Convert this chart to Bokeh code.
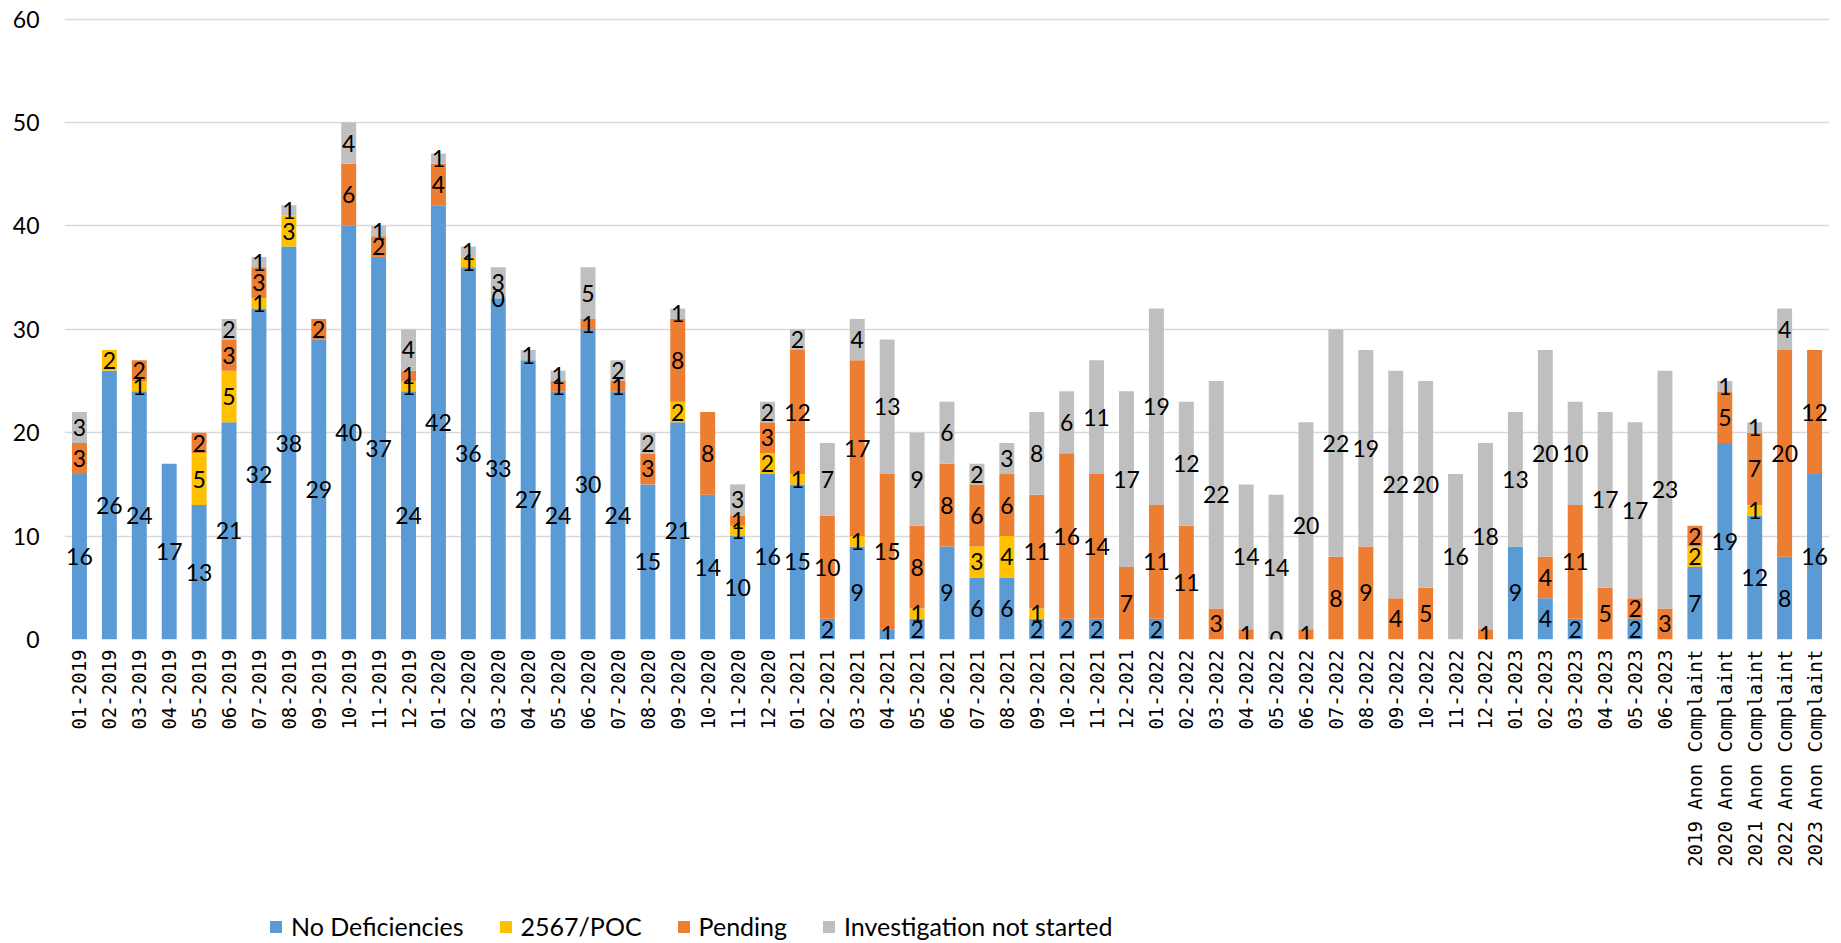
from bokeh.plotting import figure
from bokeh.models import ColumnDataSource, FactorRange, Range1d, FixedTicker, Legend, LegendItem
from bokeh.layouts import column
from bokeh.core.properties import value
from bokeh.embed import file_html
from bokeh.resources import INLINE
import math

categories = [
    "01-2019", "02-2019", "03-2019", "04-2019", "05-2019", "06-2019",
    "07-2019", "08-2019", "09-2019", "10-2019", "11-2019", "12-2019",
    "01-2020", "02-2020", "03-2020", "04-2020", "05-2020", "06-2020",
    "07-2020", "08-2020", "09-2020", "10-2020", "11-2020", "12-2020",
    "01-2021", "02-2021", "03-2021", "04-2021", "05-2021", "06-2021",
    "07-2021", "08-2021", "09-2021", "10-2021", "11-2021", "12-2021",
    "01-2022", "02-2022", "03-2022", "04-2022", "05-2022", "06-2022",
    "07-2022", "08-2022", "09-2022", "10-2022", "11-2022", "12-2022",
    "01-2023", "02-2023", "03-2023", "04-2023", "05-2023", "06-2023",
    "2019 Anon Complaint", "2020 Anon Complaint", "2021 Anon Complaint",
    "2022 Anon Complaint", "2023 Anon Complaint",
]

N = None
no_deficiencies = [16, 26, 24, 17, 13, 21, 32, 38, 29, 40, 37, 24,
                   42, 36, 33, 27, 24, 30, 24, 15, 21, 14, 10, 16,
                   15, 2, 9, 1, 2, 9, 6, 6, 2, 2, 2, N,
                   2, N, N, N, N, N, N, N, N, N, N, N,
                   9, 4, 2, N, 2, N,
                   7, 19, 12, 8, 16]
poc_2567 = [N, 2, 1, N, 5, 5, 1, 3, N, N, N, 1,
            N, 1, 0, N, N, N, N, N, 2, N, 1, 2,
            1, N, 1, N, 1, N, 3, 4, 1, N, N, N,
            N, N, N, N, N, N, N, N, N, N, N, N,
            N, N, N, N, N, N,
            2, N, 1, N, N]
pending = [3, N, 2, N, 2, 3, 3, N, 2, 6, 2, 1,
           4, N, N, N, 1, 1, 1, 3, 8, 8, 1, 3,
           12, 10, 17, 15, 8, 8, 6, 6, 11, 16, 14, 7,
           11, 11, 3, 1, 0, 1, 8, 9, 4, 5, N, 1,
           N, 4, 11, 5, 2, 3,
           2, 5, 7, 20, 12]
not_started = [3, N, N, N, N, 2, 1, 1, N, 4, 1, 4,
               1, 1, 3, 1, 1, 5, 2, 2, 1, N, 3, 2,
               2, 7, 4, 13, 9, 6, 2, 3, 8, 6, 11, 17,
               19, 12, 22, 14, 14, 20, 22, 19, 22, 20, 16, 18,
               13, 20, 10, 17, 17, 23,
               N, 1, 1, 4, N]

series_names = ["No Deficiencies", "2567/POC", "Pending", "Investigation not started"]
series_data = [no_deficiencies, poc_2567, pending, not_started]
colors = ["#5B9BD5", "#FFC000", "#ED7D31", "#BFBFBF"]
y_ticks = [0, 10, 20, 30, 40, 50, 60]

keys = ["s0", "s1", "s2", "s3"]
data = {"cat": categories}
for k, s in zip(keys, series_data):
    data[k] = [0 if v is None else v for v in s]
src = ColumnDataSource(data)

p = figure(x_range=FactorRange(*categories, range_padding=0),
           y_range=Range1d(0, 60.15),
           width=1841, height=880,
           output_backend="svg", toolbar_location=None,
           min_border_left=64, min_border_right=12,
           min_border_top=17, min_border_bottom=241)
p.frame_align = False
p.outline_line_color = None
p.background_fill_color = "white"

renderers = p.vbar_stack(keys, x="cat", width=0.5, source=src,
                         color=colors, line_color=None)

# data labels, centered in each segment
lx, ly, lt = [], [], []
bottoms = [0] * len(categories)
for s in series_data:
    for i, v in enumerate(s):
        if v is not None:
            lx.append(categories[i])
            ly.append(bottoms[i] + v / 2)
            lt.append(str(v))
        bottoms[i] += 0 if v is None else v
lsrc = ColumnDataSource(dict(x=lx, y=ly, t=lt))
p.text(x="x", y="y", text="t", source=lsrc,
       text_font=value("Lato"), text_font_size="23px",
       text_align="center", text_baseline="middle", text_color="#000000")

# axes
p.yaxis.ticker = FixedTicker(ticks=y_ticks)
p.yaxis.axis_line_color = None
p.yaxis.major_tick_line_color = None
p.yaxis.minor_tick_line_color = None
p.yaxis.major_tick_out = 0
p.yaxis.major_label_standoff = 25
p.yaxis.major_label_text_font = "Lato"
p.yaxis.major_label_text_font_size = "23px"
p.yaxis.major_label_text_color = "#000000"

p.xaxis.axis_line_color = None
p.xaxis.major_tick_line_color = None
p.xaxis.minor_tick_line_color = None
p.xaxis.major_tick_out = 0
p.xaxis.major_label_orientation = math.pi / 2
p.xaxis.major_label_standoff = 10
p.xaxis.major_label_text_font = "DejaVu Sans Mono"
p.xaxis.major_label_text_font_size = "19px"
p.xaxis.major_label_text_color = "#000000"

p.xgrid.grid_line_color = None
p.ygrid.grid_line_color = "#D9D9D9"
p.ygrid.grid_line_width = 1.5

# legend strip below the chart
lg = figure(width=1841, height=63, x_range=Range1d(0, 1), y_range=Range1d(0, 1),
            x_axis_type=None, y_axis_type=None,
            output_backend="svg", toolbar_location=None,
            min_border=0, min_border_left=0, min_border_right=0,
            min_border_top=0, min_border_bottom=0)
lg.frame_align = False
lg.outline_line_color = None
lg.xgrid.visible = False
lg.ygrid.visible = False
dummies = []
for c in colors:
    dsrc = ColumnDataSource(dict(x=[0], top=[0]))
    dummies.append(lg.vbar(x="x", top="top", bottom=0, width=0.001, source=dsrc,
                           color=c, line_color=None))

legend = Legend(items=[LegendItem(label=n, renderers=[r]) for n, r in zip(series_names, dummies)],
                orientation="horizontal", location=(268, 2),
                glyph_width=15, glyph_height=15, label_standoff=8, spacing=34,
                label_text_font="Lato", label_text_font_size="25px",
                label_text_color="#000000", label_height=26,
                padding=0, margin=0, border_line_color=None,
                background_fill_alpha=0)
lg.add_layout(legend, "center")

layout = column(p, lg, spacing=0)
open("out.html", "w").write(file_html(layout, INLINE))
